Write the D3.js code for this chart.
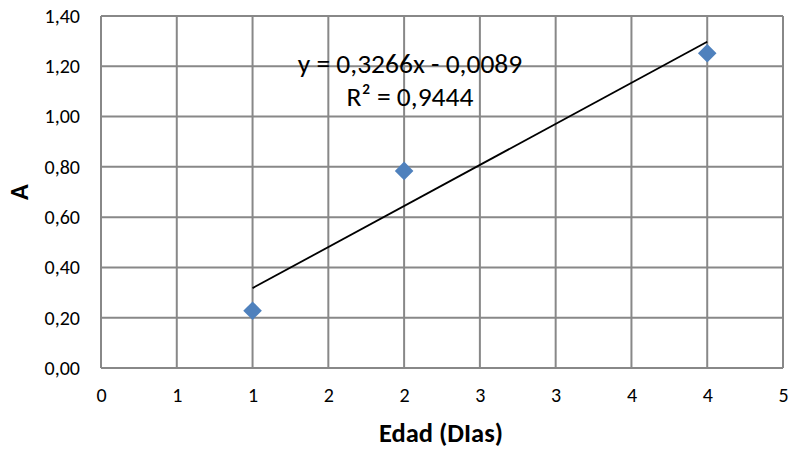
<!DOCTYPE html>
<html><head><meta charset="utf-8">
<script src="https://cdn.jsdelivr.net/npm/d3@7"></script>
<style>body{margin:0;background:#fff}text{font-family:Carlito,Calibri,"Open Sans","Noto Sans",sans-serif}</style>
</head><body><svg id="c" width="790" height="449"></svg>
<script>
const xValues = [1, 2, 4];
const yValues = [0.228, 0.784, 1.252];
const xTicks = [0, 0.5, 1, 1.5, 2, 2.5, 3, 3.5, 4, 4.5];
const xTickLabels = ["0", "1", "1", "2", "2", "3", "3", "4", "4", "5"];
const yTicks = [0, 0.2, 0.4, 0.6, 0.8, 1.0, 1.2, 1.4];
const trendSlope = 0.3266, trendIntercept = -0.0089;
const eqLines = ["y = 0,3266x - 0,0089", "R² = 0,9444"];
const xTitle = "Edad (DIas)", yTitle = "A";

const svg = d3.select("#c");
const L = 101, R = 783, T = 16, B = 368;
const x = d3.scaleLinear().domain([0, 4.5]).range([L, R]);
const y = d3.scaleLinear().domain([0, 1.4]).range([B, T]);
const grid = "#888888";
const FF = "Carlito,Calibri,'Open Sans',sans-serif";

const g = svg.append("g");
g.selectAll(".vg").data(xTicks).join("line")
  .attr("x1", d => x(d)).attr("x2", d => x(d)).attr("y1", T).attr("y2", B)
  .attr("stroke", grid).attr("stroke-width", 2);
g.selectAll(".hg").data(yTicks).join("line")
  .attr("y1", d => y(d)).attr("y2", d => y(d)).attr("x1", L).attr("x2", R)
  .attr("stroke", grid).attr("stroke-width", 2);

svg.append("g").attr("transform", `translate(0,${B})`)
  .call(d3.axisBottom(x).tickValues(xTicks).tickFormat((d,i) => xTickLabels[i]).tickSize(0).tickPadding(20))
  .call(a => a.select(".domain").remove())
  .selectAll("text").style("font-size", "20px").attr("fill", "#000").style("font-family", FF);

svg.append("g").attr("transform", `translate(${L},0)`)
  .call(d3.axisLeft(y).tickValues(yTicks).tickFormat(d => d.toFixed(2).replace(".", ",")).tickSize(0).tickPadding(21))
  .call(a => a.select(".domain").remove())
  .selectAll("text").style("font-size", "20px").attr("fill", "#000").style("font-family", FF);

// trendline
const xr = d3.extent(xValues);
svg.append("line")
  .attr("x1", x(xr[0])).attr("y1", y(trendSlope * xr[0] + trendIntercept))
  .attr("x2", x(xr[1])).attr("y2", y(trendSlope * xr[1] + trendIntercept))
  .attr("stroke", "#000").attr("stroke-width", 1.8);

// points
const sym = d3.symbol().type(d3.symbolDiamond2).size(220);
svg.selectAll(".pt").data(xValues).join("path")
  .attr("d", sym).attr("transform", (d,i) => `translate(${x(d)},${y(yValues[i])})`)
  .attr("fill", "#4F81BD");

svg.selectAll(".eq").data(eqLines).join("text")
  .attr("x", 410).attr("y", (d,i) => 73 + i*33).attr("text-anchor", "middle")
  .style("font-size", "27.5px").attr("fill", "#000").text(d => d);

svg.append("text").attr("x", 441).attr("y", 442).attr("text-anchor","middle")
  .style("font-size", "26.5px").attr("font-weight","bold").text(xTitle);
svg.append("text").attr("transform", `translate(28,192) rotate(-90)`).attr("text-anchor","middle")
  .style("font-size", "26px").attr("font-weight","bold").text(yTitle);
</script></body></html>
